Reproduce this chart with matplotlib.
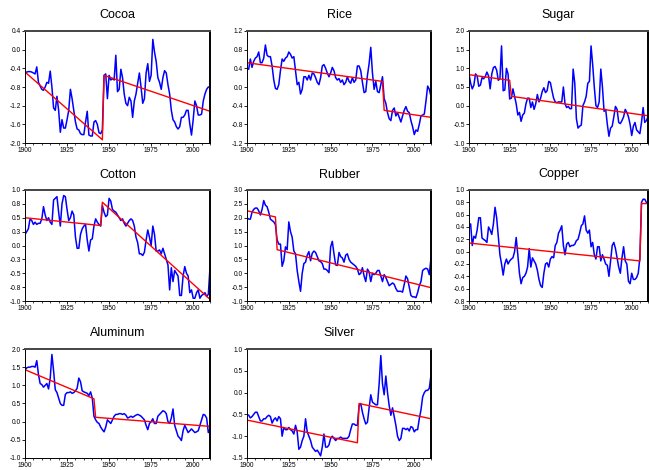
import matplotlib
matplotlib.use("Agg")
import matplotlib.pyplot as plt
from matplotlib.ticker import MultipleLocator, FixedLocator, FormatStrFormatter

plt.rcParams["font.family"] = ["Liberation Sans", "DejaVu Sans"]
plt.rcParams["axes.unicode_minus"] = False

years = list(range(1900, 2011))

cocoa = [
    -0.50, -0.48, -0.47, -0.47, -0.48, -0.50, -0.52, -0.37, -0.70, -0.78,
    -0.85, -0.87, -0.80, -0.70, -0.72, -0.46, -0.80, -1.25, -1.30, -1.00,
    -1.30, -1.77, -1.50, -1.68, -1.68, -1.50, -1.30, -0.85, -1.05, -1.30,
    -1.55, -1.70, -1.72, -1.80, -1.82, -1.82, -1.55, -1.32, -1.83, -1.85,
    -1.85, -1.55, -1.52, -1.60, -1.78, -1.80, -1.72, -0.55, -0.52, -1.05,
    -0.55, -0.65, -0.62, -0.65, -0.12, -0.90, -0.85, -0.42, -0.60, -0.95,
    -1.15, -1.20, -1.02, -1.10, -1.45, -1.10, -0.95, -0.72, -0.50, -0.80,
    -1.15, -1.05, -0.50, -0.30, -0.68, -0.55, 0.22, -0.05, -0.25, -0.60,
    -0.70, -0.85, -0.60, -0.45, -0.50, -0.75, -0.95, -1.30, -1.50, -1.55,
    -1.65, -1.70, -1.65, -1.45, -1.45, -1.40, -1.30, -1.30, -1.60, -1.83,
    -1.50, -1.10, -1.20, -1.40, -1.40, -1.38, -1.10, -0.95, -0.85, -0.80,
    -0.80,
]
rice = [
    0.40, 0.38, 0.60, 0.42, 0.55, 0.62, 0.65, 0.75, 0.52, 0.52,
    0.62, 0.90, 0.68, 0.65, 0.65, 0.45, 0.15, -0.03, -0.05, 0.05,
    0.35, 0.60, 0.55, 0.62, 0.65, 0.75, 0.70, 0.62, 0.65, 0.35,
    0.05, 0.10, -0.15, -0.05, 0.22, 0.22, 0.15, 0.25, 0.15, 0.30,
    0.28, 0.20, 0.10, 0.05, 0.20, 0.45, 0.48, 0.40, 0.30, 0.22,
    0.30, 0.42, 0.35, 0.20, 0.15, 0.18, 0.10, 0.15, 0.05, 0.10,
    0.22, 0.12, 0.08, 0.20, 0.10, 0.15, 0.45, 0.45, 0.35, 0.10,
    -0.12, -0.10, 0.25, 0.50, 0.85, 0.30, -0.05, 0.12, -0.10, -0.12,
    0.05, 0.22, -0.25, -0.35, -0.55, -0.68, -0.72, -0.50, -0.45, -0.62,
    -0.55, -0.65, -0.75, -0.62, -0.50, -0.42, -0.52, -0.55, -0.72, -0.85,
    -1.02, -0.92, -0.95, -0.80, -0.62, -0.60, -0.58, -0.30, 0.02, -0.05,
    -0.20,
]
sugar = [
    0.85, 0.60, 0.45, 0.55, 0.85, 0.80, 0.52, 0.55, 0.75, 0.72,
    0.78, 0.90, 0.80, 0.45, 0.85, 1.02, 1.05, 0.95, 0.68, 0.72,
    1.60, 0.40, 0.42, 1.00, 0.85, 0.18, 0.20, 0.45, 0.25, 0.05,
    -0.25, -0.18, -0.42, -0.25, -0.20, 0.05, 0.20, 0.20, -0.05, 0.10,
    -0.10, 0.05, 0.30, 0.10, 0.20, 0.38, 0.48, 0.35, 0.40, 0.65,
    0.62, 0.40, 0.20, 0.10, 0.08, 0.10, 0.10, 0.10, 0.50, 0.05,
    -0.05, -0.02, -0.08, -0.08, 0.98, 0.60, -0.35, -0.60, -0.55, -0.52,
    0.00, 0.10, 0.25, 0.60, 0.65, 1.60, 1.10, 0.50, 0.00, -0.05,
    0.10, 0.98, 0.50, -0.15, -0.10, -0.50, -0.82, -0.60, -0.55, -0.30,
    -0.02, -0.10, -0.45, -0.48, -0.40, -0.30, -0.10, -0.18, -0.30, -0.50,
    -0.80, -0.55, -0.45, -0.65, -0.70, -0.75, -0.45, -0.05, -0.45, -0.40,
    -0.30,
]
cotton = [
    0.20, 0.25, 0.30, 0.48, 0.45, 0.38, 0.42, 0.38, 0.40, 0.40,
    0.48, 0.70, 0.55, 0.45, 0.50, 0.42, 0.38, 0.82, 0.85, 0.88,
    0.60, 0.35, 0.75, 0.90, 0.88, 0.65, 0.45, 0.50, 0.62, 0.55,
    0.15, -0.05, -0.05, 0.20, 0.30, 0.35, 0.38, 0.10, -0.10, 0.10,
    0.12, 0.35, 0.48, 0.42, 0.38, 0.35, 0.72, 0.60, 0.52, 0.55,
    0.85, 0.80, 0.65, 0.62, 0.60, 0.55, 0.50, 0.45, 0.48, 0.40,
    0.35, 0.40, 0.45, 0.48, 0.45, 0.35, 0.15, 0.05, -0.15, -0.15,
    -0.18, -0.12, 0.10, 0.28, 0.15, 0.00, 0.35, 0.20, -0.10, -0.10,
    -0.08, -0.15, -0.05, -0.15, -0.25, -0.35, -0.80, -0.40, -0.65, -0.45,
    -0.50, -0.55, -0.90, -0.90, -0.55, -0.38, -0.50, -0.55, -0.85, -0.80,
    -0.95, -0.95, -0.85, -0.80, -0.95, -0.90, -0.88, -0.85, -0.92, -0.88,
    -0.40,
]
rubber = [
    2.00, 1.95, 1.95, 2.20, 2.30, 2.35, 2.35, 2.25, 2.10, 2.30,
    2.62, 2.45, 2.40, 2.20, 1.95, 1.90, 1.85, 1.75, 1.20, 1.05,
    1.05, 0.25, 0.45, 0.95, 0.85, 1.85, 1.50, 1.30, 0.80, 0.70,
    0.10, -0.30, -0.65, 0.00, 0.35, 0.40, 0.65, 0.78, 0.45, 0.72,
    0.80, 0.75, 0.60, 0.45, 0.42, 0.35, 0.15, 0.15, 0.10, 0.02,
    0.95, 1.15, 0.70, 0.30, 0.28, 0.75, 0.60, 0.55, 0.40, 0.65,
    0.70, 0.50, 0.40, 0.35, 0.30, 0.25, 0.15, -0.05, 0.00, 0.20,
    -0.10, -0.30, 0.15, 0.05, -0.30, 0.00, -0.05, 0.00, 0.10, 0.10,
    -0.10, -0.30, -0.05, -0.15, -0.30, -0.45, -0.40, -0.35, -0.40, -0.55,
    -0.65, -0.65, -0.65, -0.68, -0.40, -0.10, -0.20, -0.50, -0.80, -0.85,
    -0.85, -0.88, -0.70, -0.45, -0.30, 0.10, 0.15, 0.18, 0.15, -0.05,
    0.55,
]
copper = [
    0.40, 0.45, 0.10, 0.25, 0.22, 0.35, 0.55, 0.55, 0.22, 0.20,
    0.18, 0.15, 0.40, 0.35, 0.28, 0.45, 0.72, 0.55, 0.25, -0.05,
    -0.20, -0.38, -0.20, -0.12, -0.20, -0.15, -0.12, -0.10, 0.00, 0.23,
    -0.05, -0.35, -0.52, -0.42, -0.40, -0.35, -0.25, 0.05, -0.25, -0.10,
    -0.15, -0.20, -0.30, -0.45, -0.55, -0.58, -0.35, -0.20, -0.18, -0.25,
    -0.12, -0.08, -0.10, 0.10, 0.15, 0.30, 0.35, 0.42, 0.10, -0.05,
    0.12, 0.15, 0.08, 0.10, 0.10, 0.12, 0.18, 0.20, 0.30, 0.42,
    0.45, 0.58, 0.35, 0.30, 0.35, 0.08, 0.15, -0.05, -0.12, 0.08,
    0.08, -0.15, -0.05, -0.12, -0.20, -0.22, -0.40, -0.15, 0.10, 0.15,
    0.05, -0.10, -0.25, -0.35, -0.10, 0.08, -0.15, -0.20, -0.48, -0.52,
    -0.35, -0.45, -0.45, -0.42, -0.35, -0.10, 0.80, 0.85, 0.85, 0.80,
    0.80,
]
aluminum = [
    1.42, 1.48, 1.50, 1.50, 1.52, 1.52, 1.50, 1.68, 1.30, 1.05,
    1.02, 0.95, 1.00, 1.05, 0.90, 1.20, 1.85, 1.40, 0.88, 0.80,
    0.65, 0.50, 0.45, 0.45, 0.75, 0.80, 0.80, 0.82, 0.78, 0.80,
    0.85, 0.92, 1.20, 1.10, 0.85, 0.82, 0.80, 0.78, 0.72, 0.82,
    0.65, 0.15, 0.05, -0.02, -0.05, -0.15, -0.22, -0.28, -0.15, 0.05,
    0.00, -0.05, 0.05, 0.15, 0.20, 0.20, 0.22, 0.22, 0.20, 0.22,
    0.18, 0.10, 0.12, 0.15, 0.12, 0.15, 0.18, 0.20, 0.18, 0.15,
    0.10, 0.05, -0.10, -0.22, -0.05, 0.00, 0.08, -0.05, -0.05, 0.15,
    0.20, 0.25, 0.30, 0.28, 0.22, 0.00, -0.05, 0.10, 0.35, -0.10,
    -0.25, -0.40, -0.45, -0.52, -0.25, -0.10, -0.20, -0.30, -0.25, -0.20,
    -0.25, -0.30, -0.28, -0.25, -0.10, 0.05, 0.20, 0.18, 0.10, -0.30,
    -0.20,
]
silver = [
    -0.50, -0.52, -0.58, -0.55, -0.50, -0.45, -0.45, -0.55, -0.65, -0.65,
    -0.60, -0.60, -0.55, -0.52, -0.55, -0.70, -0.62, -0.58, -0.65, -0.55,
    -0.60, -1.00, -0.80, -0.85, -0.85, -0.80, -0.85, -0.88, -0.95, -0.75,
    -0.90, -1.30, -1.25, -1.10, -1.00, -0.60, -0.90, -1.00, -1.10, -1.25,
    -1.30, -1.35, -1.32, -1.38, -1.45, -1.25, -0.95, -1.25, -1.25, -1.20,
    -1.05, -1.00, -1.05, -1.10, -1.05, -1.05, -1.02, -1.05, -1.05, -1.05,
    -1.05, -1.00, -0.85, -0.72, -0.72, -0.75, -0.75, -0.30, -0.25, -0.45,
    -0.60, -0.72, -0.68, -0.35, -0.05, -0.22, -0.25, -0.28, -0.28, 0.20,
    0.85, 0.20, -0.05, 0.38, 0.00, -0.30, -0.52, -0.35, -0.55, -0.75,
    -1.00, -1.10, -1.05, -0.82, -0.82, -0.85, -0.82, -0.88, -0.78, -0.80,
    -0.90, -0.85, -0.85, -0.60, -0.40, -0.10, 0.00, 0.05, 0.05, 0.10,
    0.40,
]

# broken trend: segment end points (year, value)
cocoa_trend_x = [1900, 1946, 1947, 2010]
cocoa_trend_y = [-0.48, -1.93, -0.55, -1.32]
rice_trend_x = [1900, 1981, 1982, 2010]
rice_trend_y = [0.52, 0.12, -0.50, -0.65]
sugar_trend_x = [1900, 1925, 1926, 2010]
sugar_trend_y = [0.83, 0.68, 0.25, -0.27]
cotton_trend_x = [1900, 1945, 1946, 2010]
cotton_trend_y = [0.50, 0.36, 0.78, -0.97]
rubber_trend_x = [1900, 1917, 1918, 2010]
rubber_trend_y = [2.25, 2.03, 0.85, -0.52]
copper_trend_x = [1900, 2005, 2006, 2010]
copper_trend_y = [0.14, -0.15, 0.78, 0.78]
aluminum_trend_x = [1900, 1941, 1942, 2010]
aluminum_trend_y = [1.43, 0.63, 0.12, -0.13]
silver_trend_x = [1900, 1966, 1967, 2010]
silver_trend_y = [-0.63, -1.15, -0.25, -0.60]

cotton_ticks = [-1.0, -0.75, -0.5, -0.25, 0.0, 0.25, 0.5, 0.75, 1.0]
cotton_ticklabels = ["-1.0", "-0.8", "-0.5", "-0.3", "0.0", "0.3", "0.5", "0.8", "1.0"]

panels = [
    ("Cocoa", cocoa, cocoa_trend_x, cocoa_trend_y, (-2.0, 0.4), 0.4),
    ("Rice", rice, rice_trend_x, rice_trend_y, (-1.2, 1.2), 0.4),
    ("Sugar", sugar, sugar_trend_x, sugar_trend_y, (-1.0, 2.0), 0.5),
    ("Cotton", cotton, cotton_trend_x, cotton_trend_y, (-1.0, 1.0), None),
    ("Rubber", rubber, rubber_trend_x, rubber_trend_y, (-1.0, 3.0), 0.5),
    ("Copper", copper, copper_trend_x, copper_trend_y, (-0.8, 1.0), 0.2),
    ("Aluminum", aluminum, aluminum_trend_x, aluminum_trend_y, (-1.0, 2.0), 0.5),
    ("Silver", silver, silver_trend_x, silver_trend_y, (-1.5, 1.0), 0.5),
]

W, H = 649, 470
fig = plt.figure(figsize=(W / 100, H / 100), dpi=100)

col_left = [25, 247, 469]
col_width = [185, 184, 179]
row_top = [31, 190, 349]
row_height = [112, 111, 109]

for i, (name, vals, tx, ty, ylim, step) in enumerate(panels):
    r, c = divmod(i, 3)
    left = col_left[c] / W
    bottom = 1 - (row_top[r] + row_height[r]) / H
    ax = fig.add_axes([left, bottom, col_width[c] / W, row_height[r] / H])
    assert len(vals) == len(years)
    ax.plot(years, vals, color="#0000ff", lw=1.1)
    ax.plot(tx, ty, color="#ff0000", lw=1.0)
    ax.set_xlim(1900, 2010)
    ax.set_ylim(*ylim)
    ax.xaxis.set_major_locator(FixedLocator([1900, 1925, 1950, 1975, 2000]))
    ax.xaxis.set_minor_locator(MultipleLocator(5))
    if step is None:
        ax.set_yticks(cotton_ticks)
        ax.set_yticklabels(cotton_ticklabels)
    else:
        ax.yaxis.set_major_locator(MultipleLocator(step))
        ax.yaxis.set_major_formatter(FormatStrFormatter("%.1f"))
    ax.tick_params(which="major", direction="out", length=2.2, width=0.6,
                   labelsize=4.8, pad=0.8, top=False, right=False)
    ax.tick_params(which="minor", direction="out", length=1.2, width=0.5,
                   top=False, right=False, left=False)
    for side in ("left", "bottom"):
        ax.spines[side].set_linewidth(0.7)
    ax.spines["top"].set_color("#444444")
    ax.spines["top"].set_linewidth(1.4)
    ax.spines["right"].set_color("black")
    ax.spines["right"].set_linewidth(1.4)
    ax.set_title(name, fontsize=9, pad=9)

fig.savefig("out.png", dpi=100)
